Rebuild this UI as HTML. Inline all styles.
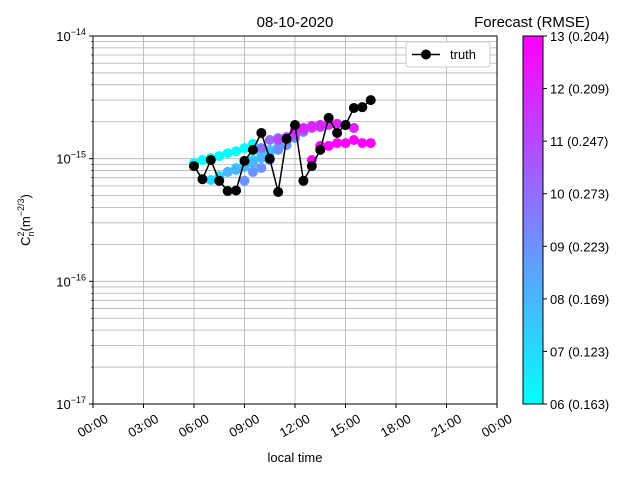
<!DOCTYPE html>
<html><head><meta charset="utf-8">
<style>body{margin:0;background:#fff}svg{display:block;font-family:"Liberation Sans","DejaVu Sans",sans-serif}</style>
</head><body>
<svg id="chart" width="640" height="480" xmlns="http://www.w3.org/2000/svg"></svg>
<script>
const xTickLabels=["00:00","03:00","06:00","09:00","12:00","15:00","18:00","21:00","00:00"];
const yTickExps=[-14,-15,-16,-17];
const truthHours=[6,6.5,7,7.5,8,8.5,9,9.5,10,10.5,11,11.5,12,12.5,13,13.5,14,14.5,15,15.5,16,16.5];
const truthValues=[8.7e-16,6.8e-16,9.75e-16,6.6e-16,5.45e-16,5.5e-16,9.6e-16,1.18e-15,1.62e-15,1.0e-15,5.35e-16,1.45e-15,1.88e-15,6.6e-16,8.7e-16,1.18e-15,2.15e-15,1.62e-15,1.88e-15,2.59e-15,2.63e-15,3.0e-15];
const forecastStarts=[6,7,8,9,10,11,12,13];
const forecastLabels=["06 (0.163)","07 (0.123)","08 (0.169)","09 (0.223)","10 (0.273)","11 (0.247)","12 (0.209)","13 (0.204)"];
const f06=[9.2e-16,9.75e-16,1.01e-15,1.05e-15,1.11e-15,1.15e-15,1.22e-15,1.32e-15];
const f07=[6.7e-16,7.2e-16,7.8e-16,8.4e-16,9.05e-16,9.75e-16,1.07e-15,1.18e-15];
const f08=[7.8e-16,8.1e-16,8.55e-16,9.2e-16,1.01e-15,1.13e-15,1.24e-15,1.42e-15];
const f09=[6.6e-16,7.8e-16,8.4e-16,9.75e-16,1.18e-15,1.29e-15,1.47e-15,1.65e-15];
const f10=[1.22e-15,1.42e-15,1.47e-15,1.50e-15,1.62e-15,1.71e-15,1.81e-15,1.88e-15];
const f11=[1.42e-15,1.50e-15,1.56e-15,1.71e-15,1.78e-15,1.81e-15,1.88e-15,1.92e-15];
const f12=[1.71e-15,1.78e-15,1.85e-15,1.88e-15,1.92e-15,1.92e-15,1.88e-15,1.78e-15];
const f13=[9.75e-16,1.27e-15,1.27e-15,1.34e-15,1.34e-15,1.42e-15,1.34e-15,1.34e-15];
const forecastSeries=[f06,f07,f08,f09,f10,f11,f12,f13];

const NS="http://www.w3.org/2000/svg";
const svg=document.getElementById('chart');
const L=93,R=497,T=36,B=404;
const xS=h=>L+(h/24)*(R-L);
const yS=v=>T+(-14-Math.log10(v))*(B-T)/3;
function el(tag,attrs,parent){const e=document.createElementNS(NS,tag);for(const k in attrs)e.setAttribute(k,attrs[k]);(parent||svg).appendChild(e);return e;}
function txt(s,attrs,parent){const e=el('text',attrs,parent);e.textContent=s;return e;}
const cool=t=>`rgb(${Math.round(255*t)},${Math.round(255*(1-t))},255)`;

const g=el('g',{});


for(let d=-17;d<-14;d++){for(let m=1;m<10;m++){const y=yS(m*Math.pow(10,d));el('line',{x1:L,x2:R,y1:y,y2:y,stroke:'#b0b0b0','stroke-width':0.8},g);}}
xTickLabels.forEach((s,i)=>{const x=xS(i*3);el('line',{x1:x,x2:x,y1:T,y2:B,stroke:'#b0b0b0','stroke-width':0.8},g);});

forecastSeries.forEach((arr,k)=>{
  const sg=el('g',{fill:cool(k/7)});
  
  
  arr.forEach((v,i)=>{const c=el('circle',{cx:xS(forecastStarts[k]+i*0.5),cy:yS(v),r:5},sg);
    
    });
});
const tg=el('g',{});


el('polyline',{points:truthValues.map((v,i)=>xS(truthHours[i])+','+yS(v)).join(' '),fill:'none',stroke:'#000','stroke-width':1.5},tg);
truthValues.forEach((v,i)=>{const c=el('circle',{cx:xS(truthHours[i]),cy:yS(v),r:5,fill:'#000'},tg);
  
  });

el('rect',{x:L,y:T,width:R-L,height:B-T,fill:'none',stroke:'#000','stroke-width':1});
xTickLabels.forEach((s,i)=>{const x=xS(i*3);el('line',{x1:x,x2:x,y1:B,y2:B+4,stroke:'#000'});
  const cy=B+22;
  const t=txt(s,{x:x,y:cy+4,'font-size':13,'text-anchor':'middle',transform:`rotate(-30 ${x} ${cy})`});
  
  });
yTickExps.forEach(e=>{const y=yS(Math.pow(10,e));el('line',{x1:L-4,x2:L,y1:y,y2:y,stroke:'#000'});
  const t=el('text',{x:L-7,y:y+5,'font-size':13,'text-anchor':'end'});
  
  
  t.appendChild(document.createTextNode('10'));
  const s=el('tspan',{dy:-6,'font-size':9},t);s.textContent='−'+(-e);});
for(let d=-17;d<-14;d++){for(let m=2;m<10;m++){const y=yS(m*Math.pow(10,d));el('line',{x1:L-2,x2:L,y1:y,y2:y,stroke:'#000','stroke-width':0.6});}}

const title=txt('08-10-2020',{x:295,y:27,'font-size':15,'text-anchor':'middle'});


const xl=txt('local time',{x:295,y:462,'font-size':13,'text-anchor':'middle'});


const yl=el('text',{x:0,y:0,'font-size':13,'text-anchor':'middle',transform:'translate(30 220) rotate(-90)'});


yl.innerHTML='C<tspan dy="4" font-size="9">n</tspan><tspan dy="-10" dx="-5" font-size="9">2</tspan><tspan dy="6">(m</tspan><tspan dy="-6" font-size="9">−2/3</tspan><tspan dy="6">)</tspan>';

const lg=el('g',{});


el('rect',{x:406,y:42,width:84,height:25,rx:3,fill:'#fff',stroke:'#ccc'},lg);
el('line',{x1:412,x2:440,y1:54.5,y2:54.5,stroke:'#000','stroke-width':1.5},lg);
el('circle',{cx:426,cy:54.5,r:5,fill:'#000'},lg);
txt('truth',{x:450,y:59,'font-size':13},lg);

const defs=el('defs',{});
const grad=el('linearGradient',{id:'cb',x1:0,y1:1,x2:0,y2:0},defs);
el('stop',{offset:0,'stop-color':'rgb(0,255,255)'},grad);
el('stop',{offset:1,'stop-color':'rgb(255,0,255)'},grad);
const cb=el('rect',{x:523,y:36,width:20,height:368,fill:'url(#cb)',stroke:'#000','stroke-width':1});


const cbt=txt('Forecast (RMSE)',{x:532,y:27,'font-size':15,'text-anchor':'middle'});


forecastLabels.forEach((s,k)=>{const y=404-k*368/7;el('line',{x1:543,x2:547,y1:y,y2:y,stroke:'#000'});
  const t=txt(s,{x:550,y:y+5,'font-size':13});
  
  });
</script>
</body></html>
